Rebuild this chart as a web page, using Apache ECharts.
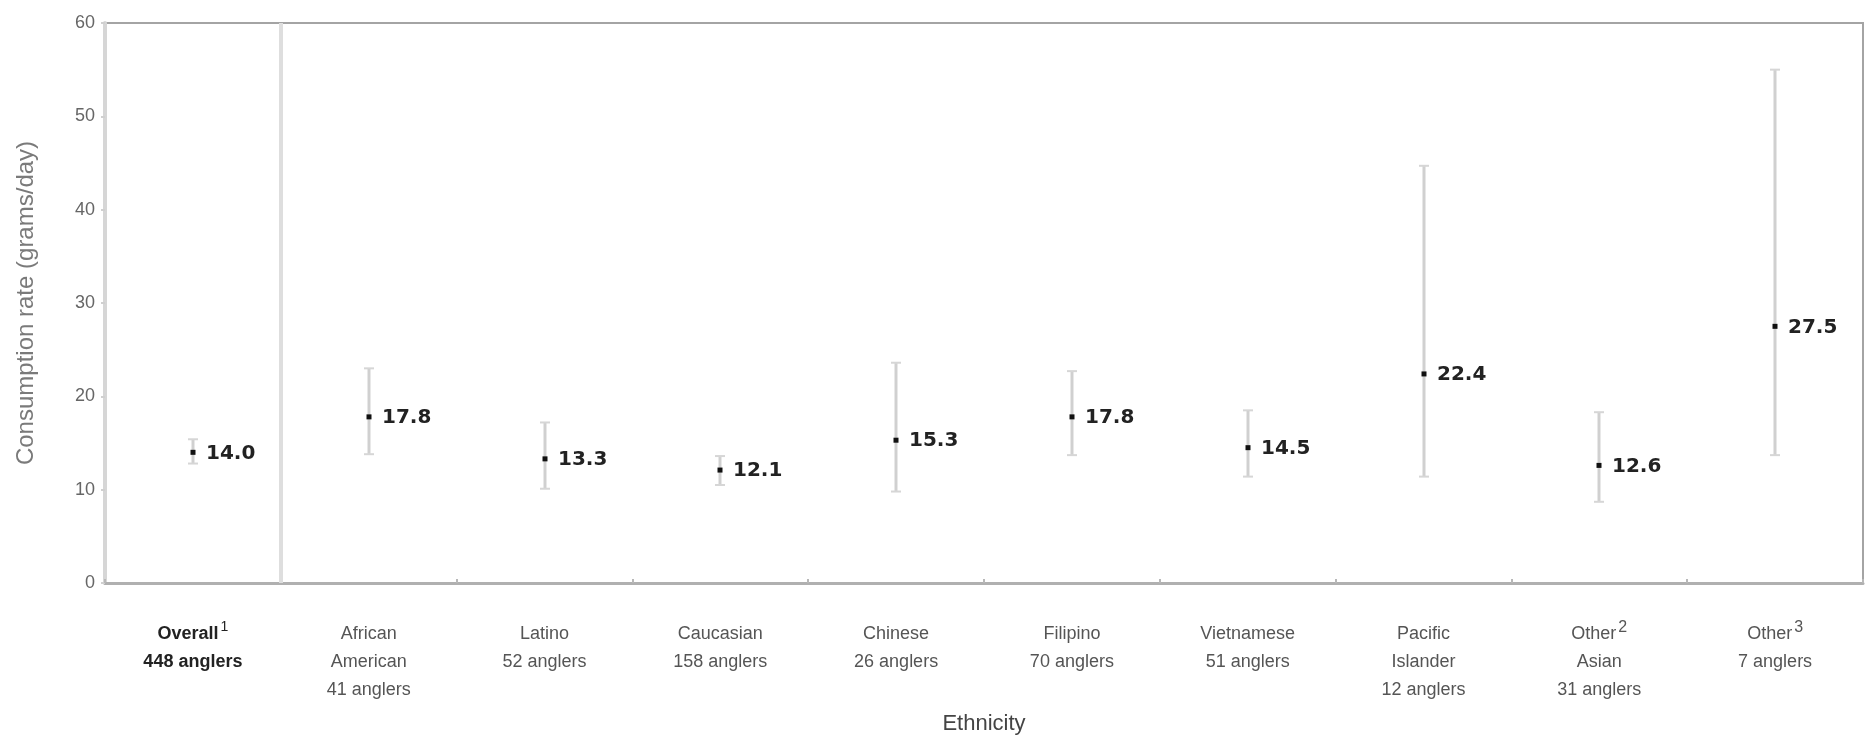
<!DOCTYPE html>
<html>
<head>
<meta charset="utf-8">
<script src="https://cdn.jsdelivr.net/npm/echarts@6/dist/echarts.min.js"></script>
<style>
  html, body { margin: 0; padding: 0; background: #fff; }
  #chart { width: 1868px; height: 745px; }
</style>
</head>
<body>
<div id="chart"></div>
<script>
const categories = ['Overall', 'African American', 'Latino', 'Caucasian', 'Chinese', 'Filipino', 'Vietnamese', 'Pacific Islander', 'Other Asian', 'Other'];
const tickLabels = [
  '{b|Overall}{bs|1}\n{b|448 anglers}',
  'African\nAmerican\n41 anglers',
  'Latino\n52 anglers',
  'Caucasian\n158 anglers',
  'Chinese\n26 anglers',
  'Filipino\n70 anglers',
  'Vietnamese\n51 anglers',
  'Pacific\nIslander\n12 anglers',
  'Other{s|2}\nAsian\n31 anglers',
  'Other{s|3}\n7 anglers'
];
const means = [14.0, 17.8, 13.3, 12.1, 15.3, 17.8, 14.5, 22.4, 12.6, 27.5];
const lower = [12.8, 13.8, 10.1, 10.5, 9.8, 13.7, 11.4, 11.4, 8.7, 13.7];
const upper = [15.4, 23.0, 17.2, 13.6, 23.6, 22.7, 18.5, 44.7, 18.3, 55.0];
const yMin = 0, yMax = 60, yStep = 10;

const seriesData = categories.map((c, i) => [i, means[i], lower[i], upper[i]]);

const chart = echarts.init(document.getElementById('chart'));
chart.setOption({
  backgroundColor: '#ffffff',
  animation: false,
  grid: { left: 105, right: 5, top: 23, bottom: 162, show: true, borderColor: '#a4a4a4', borderWidth: 2 },
  xAxis: {
    type: 'category',
    data: categories,
    boundaryGap: true,
    name: 'Ethnicity',
    nameLocation: 'middle',
    nameGap: 130,
    nameTextStyle: { fontFamily: 'Liberation Sans', fontSize: 22, color: '#444' },
    axisLine: { show: true, lineStyle: { color: '#b0b0b0', width: 3 } },
    axisTick: { show: true, interval: 0, length: 4, inside: true, lineStyle: { color: '#b8b8b8', width: 2 } },
    splitLine: { show: false },
    axisLabel: {
      interval: 0,
      margin: 37,
      fontFamily: 'Liberation Sans',
      fontSize: 18,
      lineHeight: 28,
      color: '#555',
      formatter: function (v, i) { return tickLabels[i]; },
      rich: {
        b: { fontFamily: 'Liberation Sans', fontSize: 18, fontWeight: 'bold', color: '#222', lineHeight: 28 },
        bs: { fontFamily: 'Liberation Sans', fontSize: 14, color: '#222', verticalAlign: 'top', padding: [0, 0, 10, 2], lineHeight: 28 },
        s: { fontFamily: 'Liberation Sans', fontSize: 16, color: '#555', verticalAlign: 'top', padding: [0, 0, 10, 2], lineHeight: 28 }
      }
    }
  },
  yAxis: {
    type: 'value',
    min: yMin, max: yMax, interval: yStep,
    name: 'Consumption rate (grams/day)',
    nameLocation: 'middle',
    nameGap: 67,
    nameTextStyle: { fontFamily: 'Liberation Sans', fontSize: 24, color: '#7a7a7a' },
    axisLine: { show: true, lineStyle: { color: '#d6d6d6', width: 4 } },
    axisTick: { show: true, length: 4, lineStyle: { color: '#d0d0d0', width: 2 } },
    splitLine: { show: false },
    axisLabel: { fontFamily: 'Liberation Sans', fontSize: 18, color: '#666', margin: 10 }
  },
  series: [{
    type: 'custom',
    data: seriesData,
    encode: { x: 0, y: [1, 2, 3] },
    renderItem: function (params, api) {
      const p = api.coord([api.value(0), api.value(1)]);
      const lo = api.coord([api.value(0), api.value(2)]);
      const hi = api.coord([api.value(0), api.value(3)]);
      const x = Math.round(p[0]);
      const cap = 5;
      const children = [];
      if (params.dataIndex === 0) {
        const bandW = api.size([1, 0])[0];
        const bx = Math.round(p[0] + bandW / 2);
        const yb = api.coord([0, yMin])[1];
        const yt = api.coord([0, yMax])[1];
        children.push({ type: 'line', shape: { x1: bx, y1: yt, x2: bx, y2: yb }, style: { stroke: '#dedede', lineWidth: 4 } });
      }
      children.push(
        { type: 'line', shape: { x1: x, y1: hi[1], x2: x, y2: lo[1] }, style: { stroke: '#d0d0d0', lineWidth: 3 } },
        { type: 'line', shape: { x1: x - cap, y1: hi[1], x2: x + cap, y2: hi[1] }, style: { stroke: '#d6d6d6', lineWidth: 2 } },
        { type: 'line', shape: { x1: x - cap, y1: lo[1], x2: x + cap, y2: lo[1] }, style: { stroke: '#d6d6d6', lineWidth: 2 } },
        { type: 'rect', shape: { x: x - 2.5, y: p[1] - 2.5, width: 5, height: 5 }, style: { fill: '#111' } },
        { type: 'text', x: x + 13, y: p[1] + 1, style: { text: api.value(1).toFixed(1), fontFamily: 'DejaVu Sans', fontWeight: 'bold', fontSize: 20, fill: '#222', verticalAlign: 'middle', align: 'left' } }
      );
      return { type: 'group', children: children };
    }
  }]
});
</script>
</body>
</html>
